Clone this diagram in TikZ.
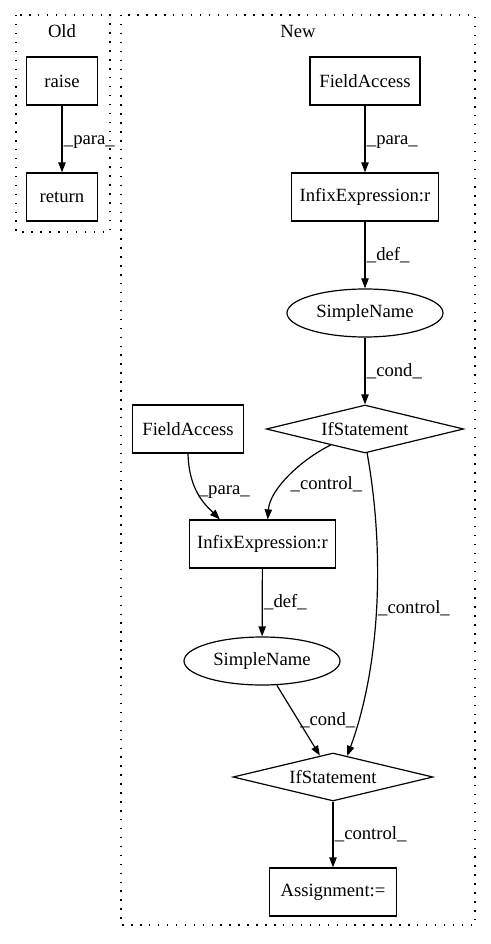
\documentclass[tikz,border=0pt]{standalone}
\usepackage{fontspec}
\setmainfont{Liberation Serif}
\usetikzlibrary{shapes.geometric, arrows.meta, positioning}

\begin{document}
\begin{tikzpicture}[x=0.75pt, y=-0.75pt, >={Triangle[length=7.5pt,width=5.5pt]}, line width=0.9pt, font=\fontsize{14}{16}\selectfont]

\tikzstyle{block} = [draw, shape=rectangle, minimum height=36pt, inner sep=2pt]
\tikzstyle{oval} = [draw, shape=ellipse, minimum width=117pt, minimum height=36pt, inner sep=0pt]
\tikzstyle{test} = [draw, shape=diamond, aspect=4, minimum width=148pt, minimum height=36pt, inner sep=0pt]
\tikzstyle{cluster} = [draw, dash pattern=on 1.1pt off 5.6pt, line width=0.9pt]
\tikzstyle{lbl} = [right, inner sep=1pt]

\useasboundingbox (0,0) rectangle (491,944);

%Clusters
\draw[cluster] (16,15) rectangle (110,232);
\draw[cluster] (121,15) rectangle (475,925);
\node (old) at (62,31) {Old};
\node (new) at (298,31) {New};

%Creating Blocks
\node[block, minimum width=53pt] (raise) at (62,81) {raise};
\node[block, minimum width=53pt] (ret) at (62,197) {return};

\node[block, minimum width=82.5pt] (fa1) at (365,81) {FieldAccess};
\node[block, minimum width=110pt] (infix1) at (365,197) {InfixExpression:r};
\node[oval] (sn1) at (365,313) {SimpleName};
\node[test] (if1) at (365,429) {IfStatement};
\node[block, minimum width=83pt] (fa2) at (188,429) {FieldAccess};
\node[block, minimum width=110pt] (infix2) at (262.5,544) {InfixExpression:r};
\node[oval] (sn2) at (262,661) {SimpleName};
\node[test, minimum width=150pt] (if2) at (333,777) {IfStatement};
\node[block, minimum width=95pt] (assign) at (333,892) {Assignment:=};

%Connecting Blocks
\draw[->] (raise) -- node[lbl, pos=0.55] {\_para\_} (ret);
\draw[->] (fa1) -- node[lbl, pos=0.55] {\_para\_} (infix1);
\draw[->] (infix1) -- node[lbl, pos=0.5] {\_def\_} (sn1);
\draw[->] (sn1) -- node[lbl, pos=0.5] {\_cond\_} (if1);
\draw[->] (fa2.south) .. controls +(1,37) and +(-15,-15) .. node[lbl, pos=0.45] {\_para\_} (infix2.150);
\draw[->] (if1.205) .. controls +(-30,15) and +(2,-30) .. node[lbl, pos=0.6, xshift=5pt] {\_control\_} (infix2.78);
\draw[->] (if1.-85) .. controls +(18,100) and +(33,-90) .. node[lbl, pos=0.5] {\_control\_} (if2.56);
\draw[->] (infix2) -- node[lbl, pos=0.5] {\_def\_} (sn2);
\draw[->] (sn2) -- node[lbl, pos=0.5] {\_cond\_} (if2);
\draw[->] (if2) -- node[lbl, pos=0.5] {\_control\_} (assign);
\end{tikzpicture}
\end{document}
